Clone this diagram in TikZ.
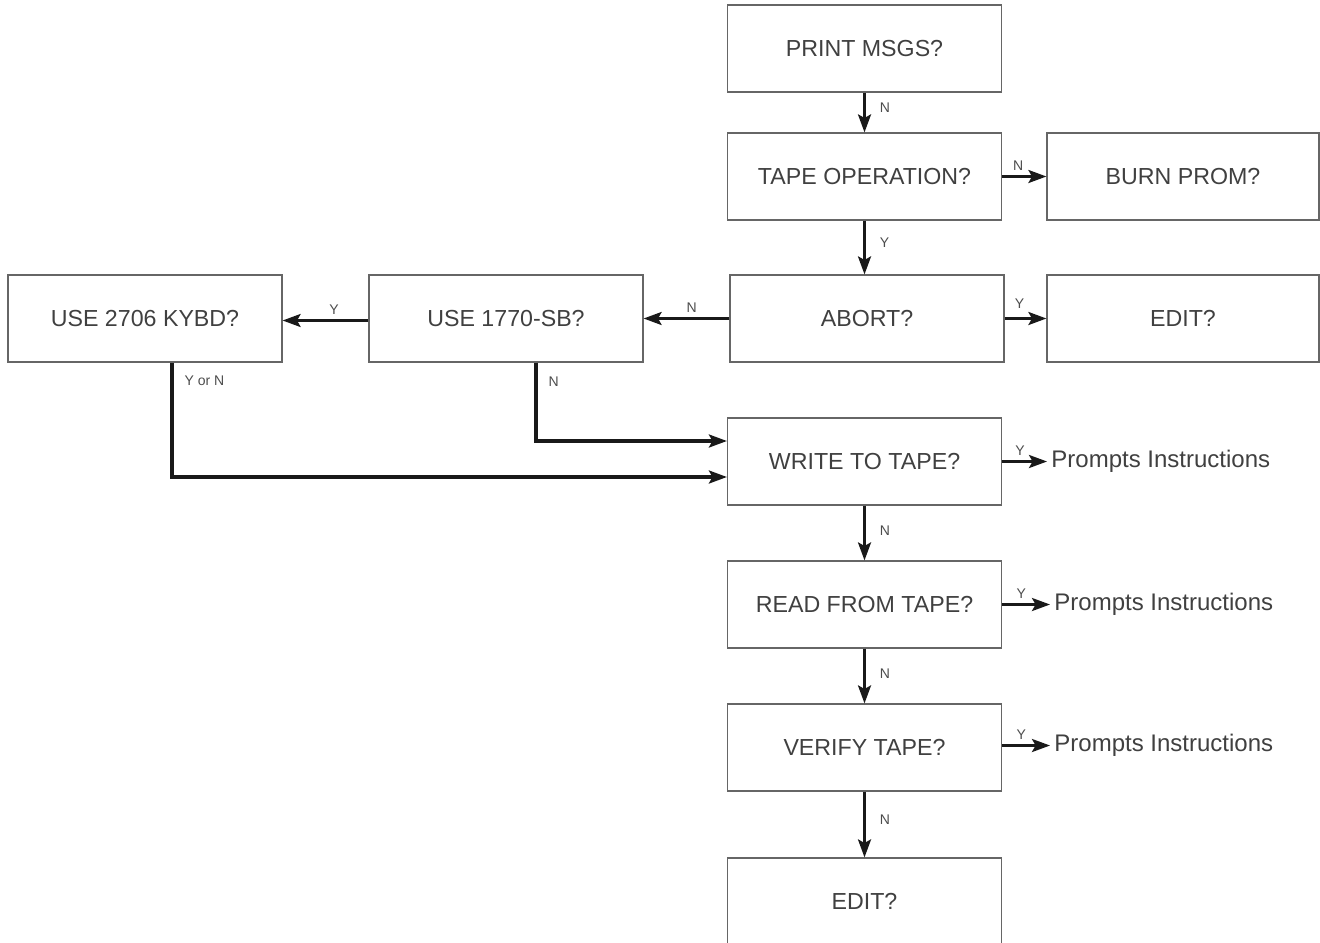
\documentclass[tikz,border=0pt]{standalone}
\usepackage{fontspec}
\setmainfont{Liberation Sans}
\usetikzlibrary{arrows.meta}
\begin{document}
\begin{tikzpicture}[x=0.5pt,y=-0.5pt,
  box/.style={draw=black!60, line width=0.6pt, minimum width=137pt, minimum height=43.5pt,
    inner sep=0pt, font=\fontsize{11.6}{13}\selectfont, text=black!75},
  arr/.style={draw=black!90, line width=1.4pt,
    -{Stealth[length=9pt,width=6.5pt,inset=1.8pt,fill=black!90]}},
  longarr/.style={arr, line width=1.6pt},
  lbl/.style={font=\fontsize{7}{8}\selectfont, text=black!70, inner sep=1pt},
  vlbl/.style={lbl, anchor=west, xshift=6pt},
  hlbl/.style={lbl, anchor=south, yshift=1.5pt},
  prm/.style={font=\fontsize{12}{14}\selectfont, text=black!75, inner sep=2pt, anchor=west}]
\clip (0,0) rectangle (1320,942);

% decision boxes
\node[box] (pm)     at (864.5,48.5)  {PRINT MSGS?};
\node[box] (tape)   at (864.5,176.5) {TAPE OPERATION?};
\node[box, minimum width=136pt] (burn) at (1183,176.5) {BURN PROM?};
\node[box] (abort)  at (867,318.5)   {ABORT?};
\node[box, minimum width=136pt] (edita) at (1183,318.5) {EDIT?};
\node[box] (sb)     at (506,318.5)   {USE 1770-SB?};
\node[box] (kb)     at (145,318.5)   {USE 2706 KYBD?};
\node[box] (write)  at (864.5,461.5) {WRITE TO TAPE?};
\node[box] (read)   at (864.5,604.5) {READ FROM TAPE?};
\node[box] (verify) at (864.5,747.5) {VERIFY TAPE?};
\node[box] (editb)  at (864.5,901.5) {EDIT?};

% outcome texts
\node[prm] (pw) at (1047,461.5) {Prompts Instructions};
\node[prm] (pr) at (1050,604.5) {Prompts Instructions};
\node[prm] (pv) at (1050,745.5) {Prompts Instructions};

% main chain
\draw[arr] (pm.south) -- node[vlbl, pos=0.37] {N} (tape.north);
\draw[arr] (tape.south) -- node[vlbl, pos=0.41] {Y} (tape.south |- abort.north);
\draw[arr] (write.south) -- node[vlbl, pos=0.45] {N} (read.north);
\draw[arr] (read.south) -- node[vlbl, pos=0.45] {N} (verify.north);
\draw[arr] (verify.south) -- node[vlbl, pos=0.42] {N} (editb.north);

% side branches
\draw[arr] (tape.east) -- node[hlbl, pos=0.36] {N} (burn.west);
\draw[arr] (abort.east) -- node[hlbl, pos=0.36, yshift=2pt] {Y} (edita.west);
\draw[arr] (abort.west) -- node[hlbl, pos=0.44] {N} (sb.east);
\draw[arr] ([yshift=-1pt]sb.west) -- node[hlbl, pos=0.4] {Y} ([yshift=-1pt]kb.east);
\draw[arr] (write.east) -- node[hlbl, pos=0.4] {Y} (pw.west);
\draw[arr] (read.east) -- node[hlbl, pos=0.4] {Y} (pr.west);
\draw[arr] ([yshift=1pt]verify.east) -- node[hlbl, pos=0.4] {Y} (pv.west);

% returns to WRITE TO TAPE?
\coordinate (sbout) at ([xshift=15pt]sb.south);
\coordinate (sbin)  at ([yshift=10.25pt]write.west);
\coordinate (kbout) at ([xshift=13.5pt]kb.south);
\coordinate (kbin)  at ([yshift=-7.75pt]write.west);
\draw[longarr] (sbout) -- node[lbl, anchor=west, pos=0.24, xshift=4.5pt] {N}
  (sbout |- sbin) -- (sbin);
\draw[longarr] (kbout) -- node[lbl, anchor=west, pos=0.16, xshift=4.5pt] {Y or N}
  (kbout |- kbin) -- (kbin);
\end{tikzpicture}
\end{document}
